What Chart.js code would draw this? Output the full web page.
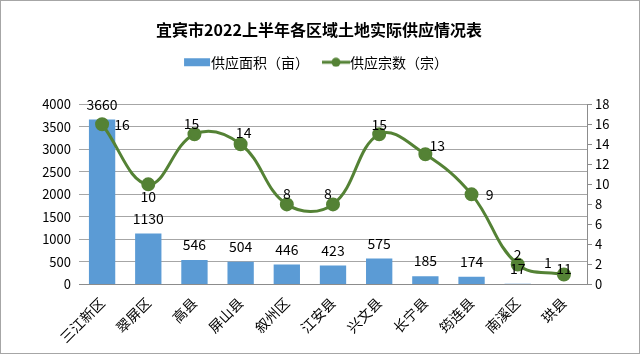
<!DOCTYPE html>
<html>
<head>
<meta charset="utf-8">
<script src="https://cdn.jsdelivr.net/npm/chart.js@4"></script>
<style>
  html, body { margin: 0; padding: 0; background: #fff; }
  #wrap { width: 640px; height: 354px; position: relative; box-sizing: border-box; border: 1px solid #a6a6a6; }
</style>
</head>
<body>
<div id="wrap"><canvas id="c" width="638" height="352"></canvas></div>
<script>
const districts = ["三江新区", "翠屏区", "高县", "屏山县", "叙州区", "江安县", "兴文县", "长宁县", "筠连县", "南溪区", "珙县"];
const areaMu = [3660, 1130, 546, 504, 446, 423, 575, 185, 174, 17, 11];
const plotCount = [16, 10, 15, 14, 8, 8, 15, 13, 9, 2, 1];
const areaTicks = [0, 500, 1000, 1500, 2000, 2500, 3000, 3500, 4000];
const countTicks = [0, 2, 4, 6, 8, 10, 12, 14, 16, 18];

const BLUE = "#5b9bd5";
const GREEN = "#548235";
const FONT = "'Noto Sans CJK SC', 'Noto Sans', sans-serif";

// where each count label sits relative to its point
const countLabelPos = [[20, 0], [0, 12], [-3, -11], [3, -12], [0, -11], [-5, -11], [0, -10], [12, -9], [18, 0], [0, -10], [-16, -12]];

function legendIcon(kind) {
    const cv = document.createElement("canvas");
    cv.width = 28; cv.height = 10;
    const g = cv.getContext("2d");
    if (kind === "bar") {
        g.fillStyle = BLUE;
        g.fillRect(1, 1, 26, 8);
    } else {
        g.strokeStyle = GREEN; g.lineWidth = 3;
        g.beginPath(); g.moveTo(0, 5); g.lineTo(28, 5); g.stroke();
        g.fillStyle = GREEN;
        g.beginPath(); g.arc(14, 5, 4.5, 0, Math.PI * 2); g.fill();
    }
    return cv;
}
const icons = { bar: legendIcon("bar"), line: legendIcon("line") };

const valueLabels = {
    id: "valueLabels",
    afterDatasetsDraw(chart) {
        const ctx = chart.ctx;
        ctx.save();
        ctx.font = "14px " + FONT;
        ctx.fillStyle = "#000";
        ctx.textAlign = "center";
        ctx.textBaseline = "middle";
        chart.getDatasetMeta(1).data.forEach((el, i) => {
            ctx.fillText(areaMu[i], el.x, el.y - 15);
        });
        chart.getDatasetMeta(0).data.forEach((el, i) => {
            const p = countLabelPos[i];
            ctx.fillText(plotCount[i], el.x + p[0], el.y + p[1]);
        });
        ctx.restore();
    }
};

const tickFont = { family: FONT, size: 13 };

new Chart(document.getElementById("c"), {
    data: {
        labels: districts,
        datasets: [{
            type: "line",
            label: "供应宗数（宗）",
            data: plotCount,
            yAxisID: "y2",
            borderColor: GREEN,
            backgroundColor: GREEN,
            borderWidth: 3,
            pointRadius: 5.5,
            pointHoverRadius: 5.5,
            tension: 0.4,
            order: 0
        }, {
            type: "bar",
            label: "供应面积（亩）",
            data: areaMu,
            yAxisID: "y",
            backgroundColor: BLUE,
            barPercentage: 0.57,
            categoryPercentage: 1,
            order: 1
        }]
    },
    options: {
        responsive: false,
        animation: false,
        events: [],
        layout: { padding: { left: 10, right: 12, top: 0, bottom: 5 } },
        plugins: {
            title: {
                display: true,
                text: "宜宾市2022上半年各区域土地实际供应情况表",
                font: { family: FONT, size: 16, weight: "bold" },
                color: "#000",
                padding: { top: 19, bottom: -4 }
            },
            legend: {
                reverse: true,
                labels: {
                    usePointStyle: true,
                    font: { family: FONT, size: 14 },
                    color: "#000",
                    padding: 20,
                    boxHeight: 10,
                    generateLabels(chart) {
                        return Chart.defaults.plugins.legend.labels.generateLabels(chart).map(l => {
                            l.pointStyle = l.datasetIndex === 0 ? icons.line : icons.bar;
                            return l;
                        });
                    }
                }
            },
            tooltip: { enabled: false }
        },
        scales: {
            x: {
                grid: { display: false },
                border: { color: "#8c8c8c" },
                ticks: { font: { family: FONT, size: 14 }, color: "#000", minRotation: 45, maxRotation: 45, padding: 2 }
            },
            y: {
                position: "left",
                min: 0, max: 4000,
                afterBuildTicks: ax => { ax.ticks = areaTicks.map(v => ({ value: v })); },
                grid: { color: "#a6a6a6", drawTicks: false },
                border: { display: false },
                ticks: { font: tickFont, color: "#000", padding: 8, callback: v => String(v) },
                afterFit: ax => { ax.width = 68; }
            },
            y2: {
                position: "right",
                min: 0, max: 18,
                afterBuildTicks: ax => { ax.ticks = countTicks.map(v => ({ value: v })); },
                grid: { drawOnChartArea: false, tickLength: 5, color: "#8c8c8c" },
                border: { color: "#8c8c8c" },
                ticks: { font: tickFont, color: "#000", padding: 3, callback: v => String(v) },
                afterFit: ax => { ax.width = 40; }
            }
        }
    },
    plugins: [valueLabels, {
        id: "legendGap",
        beforeInit(chart) {
            const fit = chart.legend.fit;
            chart.legend.fit = function () { fit.call(this); this.height += 25; };
        }
    }]
});
</script>
</body>
</html>
